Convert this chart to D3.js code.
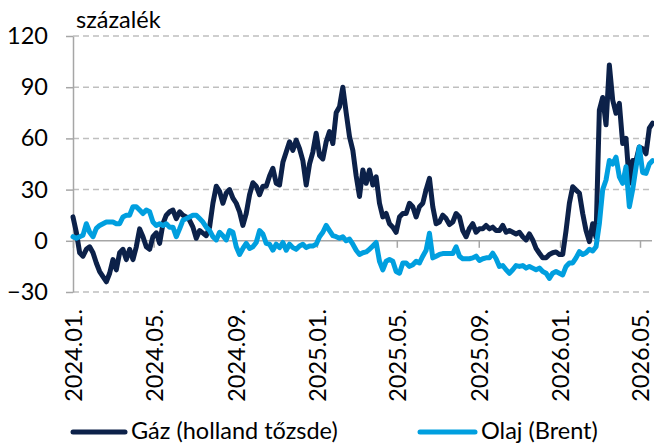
<!DOCTYPE html>
<html>
<head>
<meta charset="utf-8">
<script src="https://cdn.jsdelivr.net/npm/d3@7"></script>
<style>
  body { margin: 0; background: #fff; }
  svg { display: block; font-family: Lato, "Open Sans", sans-serif; }
  .lbl { font-size: 23.5px; fill: #000; }
</style>
</head>
<body>
<svg width="654" height="444"></svg>
<script>
'use strict';

// 5 napos lépés 2024.01.01-től
const startDate = new Date(2024, 0, 1);
const stepDays = 5;

const gasValues = [
  14, 5, -7, -9, -5, -3.5, -7, -13, -18, -21,
  -24, -19, -11, -17, -7, -5, -11, -5, -11, -3.5,
  7, 2.4, -3.5, -5, 2.4, 4.7, -1.5, 10, 15, 17,
  18, 13, 17, 15, 14, 12, 8, 1.5, 6, 4.5,
  3, 8, 22, 32, 29, 22, 28, 30, 25, 22,
  17, 9, 16, 27, 34, 32, 27, 32, 32, 38,
  42.5, 33.7, 32.7, 46, 52, 58, 53, 59, 54, 47,
  32.7, 45, 52, 63, 50, 48, 58, 64, 57, 75,
  78.5, 90, 75, 61, 53, 38, 26, 41.5, 33.7, 41.5,
  32.7, 37.5, 22, 14, 16, 10, 8, 5, 14, 16,
  16, 22, 20, 14, 20, 22, 30, 36.6, 20, 10,
  11, 15, 13, 9.5, 11, 16, 14, 6, 2.4, 7.3,
  10, 5, 7, 7, 9, 7, 8, 6, 6, 9,
  5, 6, 5, 4, 5, 2.4, 0.5, 4, 0.5, -4.4,
  -7.3, -10, -10, -8, -7, -6.5, -8, -8, 6, 22,
  31.7, 29.7, 28, 16, 6, -0.5, 10, 2, 76.6, 84,
  68, 103, 82.5, 74.7, 80.5, 57, 60, 33.7, 47, 47,
  55, 54, 51, 66, 69
];

const oilValues = [
  2.4, 1.5, 2.4, 3.3, 10, 5, 2.4, 7.3, 9, 10,
  11, 11, 11, 10, 10, 14, 15, 15, 20, 20,
  18, 16, 18, 17, 11, 9, 10, 9, 10, 8,
  8, 2.4, 7, 12, 13, 14, 15, 15, 13, 11,
  8, 6, 2.4, 0.5, 5, 3, 0.5, 6, 5, -3.5,
  -8, -4.5, -1.5, -4.5, -3.5, -1, 6, 4, -1.5, -2,
  -5.5, -2, -4, -1, -5.5, -2, -4, -5, -3, -2,
  -4, -3, -3, -2, 2.4, 5, 9, 6, 3, 2.4,
  1.5, 2.4, 0, 1, -2, -5.5, -8, -7, -6.5, -5,
  -3, -1, -12, -17, -12, -11, -12, -18, -19, -13,
  -13, -15, -14, -12, -13, -9, -5.5, 4.4, -10, -9,
  -8, -7.5, -7.5, -7.5, -7.5, -3.5, -9, -10.5, -10.5, -10.5,
  -10, -9, -11.5, -10.5, -10, -10, -7.3, -10.5, -15, -14.5,
  -17, -19, -17, -14.5, -15, -14.5, -16, -15, -16, -17,
  -16, -18, -19, -22, -19, -18, -19, -20, -15, -13,
  -13, -10, -6.4, -8, -7, -5, -6, -3.5, 10, 30,
  35.6, 47, 45, 49, 37.5, 33.7, 43.4, 20, 30, 43,
  55, 40, 39.5, 45, 47
];

const xTickLabels = ['2024.01.', '2024.05.', '2024.09.', '2025.01.', '2025.05.', '2025.09.', '2026.01.', '2026.05.'];
const yTicks = [-30, 0, 30, 60, 90, 120];
const seriesNames = ['Gáz (holland tőzsde)', 'Olaj (Brent)'];
const colors = ['#0c2149', '#009fdf'];

const dates = gasValues.map((d, i) => d3.timeDay.offset(startDate, i * stepDays));
const parseTick = d3.timeParse('%Y.%m.');
const tickDates = xTickLabels.map(parseTick);

const svg = d3.select('svg');
const left = 73, right = 652;

const x = d3.scaleTime()
  .domain([tickDates[0], tickDates[tickDates.length - 1]])
  .range([73, 640]);

const y = d3.scaleLinear()
  .domain([-30, 120])
  .range([292, 36]);

// rácsvonalak
svg.append('g')
  .selectAll('line')
  .data(yTicks.filter(d => d !== 0))
  .enter().append('line')
    .attr('x1', left)
    .attr('x2', right)
    .attr('y1', d => y(d))
    .attr('y2', d => y(d))
    .attr('stroke', '#bfbfbf')
    .attr('stroke-width', 1.5)
    .attr('stroke-dasharray', '6,4');

// y tengely
const yAxisG = svg.append('g')
  .attr('transform', `translate(${left},0)`)
  .call(d3.axisLeft(y).tickValues(yTicks).tickSize(7).tickSizeOuter(0).tickPadding(18));
yAxisG.attr('font-family', null).attr('font-size', null);
yAxisG.select('.domain').attr('stroke', '#a6a6a6').attr('stroke-width', 1.5);
yAxisG.selectAll('.tick line').attr('stroke', '#a6a6a6').attr('stroke-width', 1.5);
yAxisG.selectAll('.tick text').attr('class', 'lbl');

// x tengely a nullvonalon
const xAxisG = svg.append('g')
  .attr('transform', `translate(0,${y(0)})`)
  .call(d3.axisBottom(x).tickValues(tickDates).tickSize(7).tickSizeOuter(0)
    .tickFormat((d, i) => xTickLabels[i]));
xAxisG.attr('font-family', null).attr('font-size', null);
xAxisG.select('.domain').remove();
xAxisG.append('line')
  .attr('x1', left)
  .attr('x2', right)
  .attr('stroke', '#a6a6a6')
  .attr('stroke-width', 1.5);
xAxisG.selectAll('.tick line').attr('stroke', '#a6a6a6').attr('stroke-width', 1.5);
xAxisG.selectAll('.tick text')
  .attr('class', 'lbl')
  .attr('transform', 'rotate(-90)')
  .attr('x', -(309 - y(0)))
  .attr('y', 0)
  .attr('dy', '0.36em')
  .style('text-anchor', 'end');

// görbék
const line = d3.line()
  .x((d, i) => x(dates[i]))
  .y(d => y(d));

[gasValues, oilValues].forEach((values, k) => {
  svg.append('path')
    .datum(values)
    .attr('d', line)
    .attr('fill', 'none')
    .attr('stroke', colors[k])
    .attr('stroke-width', 5)
    .attr('stroke-linejoin', 'round')
    .attr('stroke-linecap', 'round');
});

svg.append('text')
  .attr('class', 'lbl')
  .attr('x', 76)
  .attr('y', 28)
  .text('százalék');

// jelmagyarázat
const legendX = [[73, 125], [420, 475]];
seriesNames.forEach((name, k) => {
  const lg = svg.append('g');
  lg.append('line')
    .attr('x1', legendX[k][0])
    .attr('x2', legendX[k][1])
    .attr('y1', 432)
    .attr('y2', 432)
    .attr('stroke', colors[k])
    .attr('stroke-width', 5)
    .attr('stroke-linecap', 'round');
  lg.append('text')
    .attr('class', 'lbl')
    .attr('x', legendX[k][1] + 6)
    .attr('y', 439)
    .text(name);
});
</script>
</body>
</html>
